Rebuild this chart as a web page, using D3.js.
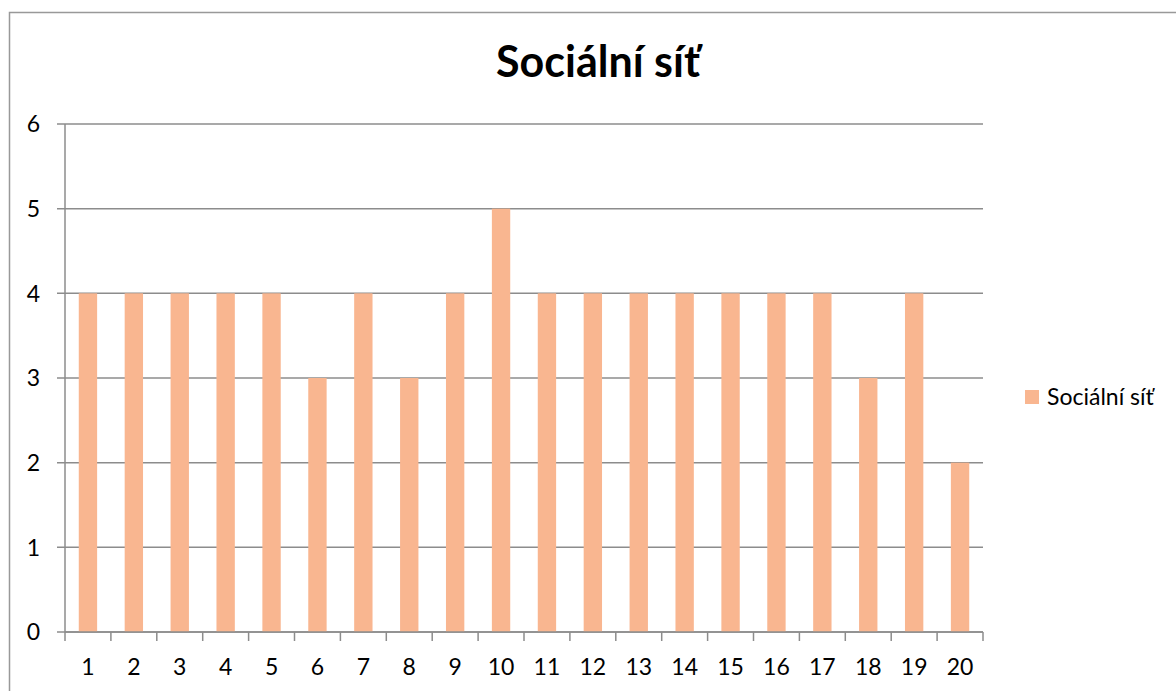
<!DOCTYPE html>
<html>
<head>
<meta charset="utf-8">
<script src="https://cdn.jsdelivr.net/npm/d3@7"></script>
<style>
html,body{margin:0;padding:0;background:#fff;}
svg{display:block;}
text{font-family:Lato,"Open Sans",sans-serif;fill:#000;}
</style>
</head>
<body>
<svg id="chart" width="1176" height="691"></svg>
<script>
const categories = ["1","2","3","4","5","6","7","8","9","10","11","12","13","14","15","16","17","18","19","20"];
const values = [4,4,4,4,4,3,4,3,4,5,4,4,4,4,4,4,4,3,4,2];
const yTicks = [0,1,2,3,4,5,6];
const title = "Sociální síť";
const seriesName = "Sociální síť";

const svg = d3.select("#chart");
const W = 1176, H = 691;
const m = {left:65, right:1176-983, top:124, bottom:691-632};
const barColor = "#F9B690";
const gridColor = "#8c8c8c";

// outer border
svg.append("rect").attr("x",9.5).attr("y",12.5).attr("width",1200).attr("height",700)
  .attr("fill","none").attr("stroke","#999").attr("stroke-width",1.5);

const x = d3.scaleBand().domain(categories).range([m.left, W-m.right]).paddingInner(0.6).paddingOuter(0.3);
const y = d3.scaleLinear().domain([0,6]).range([H-m.bottom, m.top]);

// gridlines
svg.append("g")
  .selectAll("line").data(yTicks).join("line")
  .attr("x1", m.left-8).attr("x2", W-m.right)
  .attr("y1", d=>y(d)).attr("y2", d=>y(d))
  .attr("stroke", gridColor).attr("stroke-width",1.5);

// y axis line
svg.append("line").attr("x1",m.left).attr("x2",m.left).attr("y1",y(6)).attr("y2",y(0))
  .attr("stroke",gridColor).attr("stroke-width",1.5);

// y labels
svg.append("g").selectAll("text").data(yTicks).join("text")
  .attr("x", 40).attr("y", d=>y(d)).attr("dy","0.36em")
  .attr("text-anchor","end").attr("font-size",23).text(d=>d);

// bars
svg.append("g").selectAll("rect").data(values).join("rect")
  .attr("x",(d,i)=>x(categories[i])).attr("width",x.bandwidth())
  .attr("y",d=>y(d)).attr("height",d=>y(0)-y(d))
  .attr("fill",barColor);

// x axis ticks
const step = x.step();
const xEdges = d3.range(categories.length+1).map(i=>m.left + i*step);
svg.append("g").selectAll("line").data(xEdges).join("line")
  .attr("x1",d=>d).attr("x2",d=>d).attr("y1",y(0)).attr("y2",y(0)+9)
  .attr("stroke",gridColor).attr("stroke-width",1.5);
svg.append("line").attr("x1",m.left).attr("x2",W-m.right).attr("y1",y(0)).attr("y2",y(0))
  .attr("stroke",gridColor).attr("stroke-width",1.5);

// x labels
svg.append("g").selectAll("text").data(categories).join("text")
  .attr("x",d=>x(d)+x.bandwidth()/2).attr("y",675)
  .attr("text-anchor","middle").attr("font-size",23).text(d=>d);

// title
svg.append("text").attr("x",598).attr("y",77).attr("text-anchor","middle")
  .attr("font-size",43).attr("font-weight","bold").text(title);

// legend
svg.append("rect").attr("x",1025).attr("y",390).attr("width",14).attr("height",14).attr("fill",barColor);
svg.append("text").attr("x",1047).attr("y",405).attr("font-size",23).text(seriesName);
</script>
</body>
</html>
